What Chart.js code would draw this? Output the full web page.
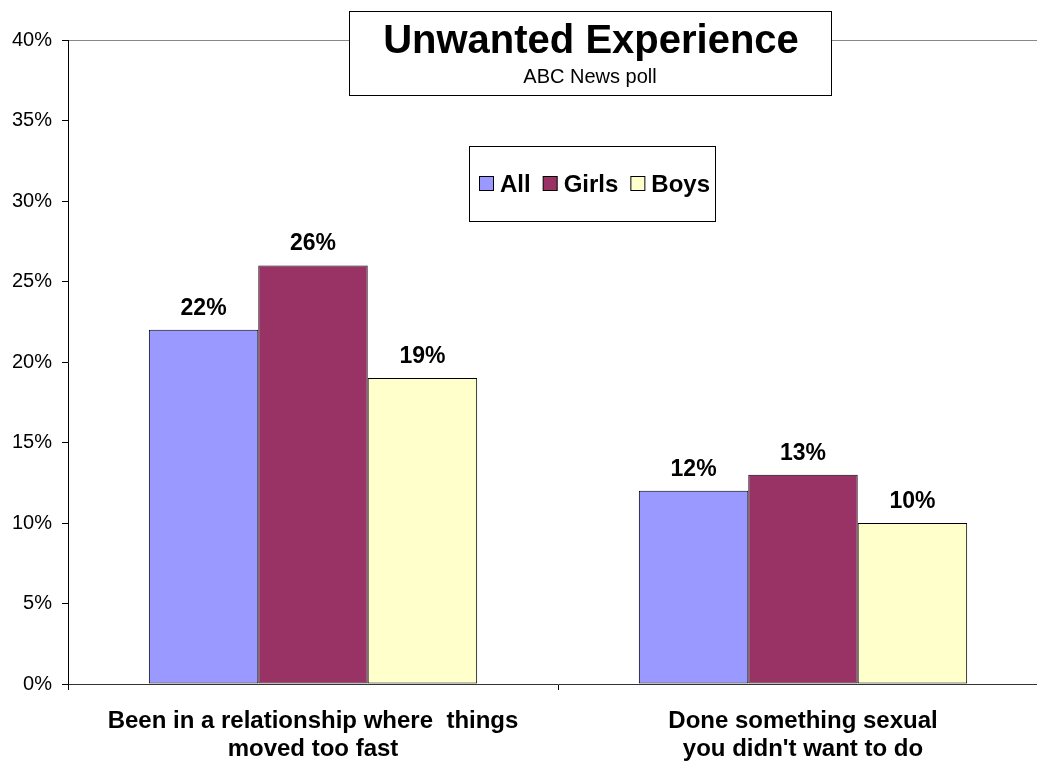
<!DOCTYPE html>
<html>
<head>
<meta charset="utf-8">
<script src="https://cdn.jsdelivr.net/npm/chart.js@4.4.0/dist/chart.umd.min.js"></script>
<style>
    html, body { margin: 0; padding: 0; background: #fff; }
    #clip { width: 1037px; height: 761px; overflow: hidden; }
    #wrap { width: 1048px; height: 761px; position: relative; }
</style>
</head>
<body>
<div id="clip"><div id="wrap"><canvas id="chart"></canvas></div></div>
<script>
// Data
const categories = [
    ['Been in a relationship where  things', 'moved too fast'],
    ['Done something sexual', "you didn't want to do"]
];
const seriesNames = ['All', 'Girls', 'Boys'];
const allValues = [22, 12];
const girlsValues = [26, 13];
const boysValues = [19, 10];
const yTicks = [0, 5, 10, 15, 20, 25, 30, 35, 40];
const chartTitle = 'Unwanted Experience';
const chartSubtitle = 'ABC News poll';

const colors = ['#9999FF', '#993366', '#FFFFCC'];
const FONT = 'Arial, "Liberation Sans", sans-serif';

// Title box + legend box + value labels
const decorPlugin = {
    id: 'decor',
    afterDatasetsDraw(chart) {
        const ctx = chart.ctx;
        ctx.save();
        ctx.fillStyle = '#000';
        ctx.textAlign = 'center';
        ctx.textBaseline = 'alphabetic';
        ctx.font = 'bold 23px ' + FONT;
        chart.data.datasets.forEach((ds, i) => {
            chart.getDatasetMeta(i).data.forEach((bar, j) => {
                ctx.fillText(ds.data[j] + '%', bar.x, bar.y - 15);
            });
        });
        ctx.restore();
    },
    afterDraw(chart) {
        const ctx = chart.ctx;
        ctx.save();
        // title box
        ctx.fillStyle = '#fff';
        ctx.fillRect(349, 11, 482, 84);
        ctx.strokeStyle = '#000';
        ctx.lineWidth = 1;
        ctx.strokeRect(349.5, 11.5, 482, 84);
        ctx.fillStyle = '#000';
        ctx.textAlign = 'center';
        ctx.textBaseline = 'alphabetic';
        ctx.font = 'bold 40px ' + FONT;
        ctx.fillText(chartTitle, 591, 53);
        ctx.font = '20px ' + FONT;
        ctx.fillText(chartSubtitle, 590, 83);

        // legend box
        ctx.fillStyle = '#fff';
        ctx.fillRect(469, 146, 246, 75);
        ctx.strokeRect(469.5, 146.5, 246, 75);
        ctx.font = 'bold 24px ' + FONT;
        ctx.textAlign = 'left';
        let x = 479;
        const y = 184;
        chart.data.datasets.forEach((ds) => {
            ctx.fillStyle = ds.backgroundColor;
            ctx.fillRect(x + 0.5, y - 7.5, 14, 14);
            ctx.strokeStyle = '#000';
            ctx.strokeRect(x + 0.5, y - 7.5, 14, 14);
            ctx.fillStyle = '#000';
            ctx.fillText(ds.label, x + 21, y + 8);
            x += 21 + ctx.measureText(ds.label).width + 12;
        });
        ctx.restore();
    }
};

const datasets = [allValues, girlsValues, boysValues].map((vals, i) => ({
    label: seriesNames[i],
    data: vals,
    backgroundColor: colors[i],
    borderColor: '#000',
    borderWidth: 1,
    borderSkipped: false,
    categoryPercentage: 0.67,
    barPercentage: 1.0
}));

new Chart(document.getElementById('chart'), {
    type: 'bar',
    data: { labels: categories, datasets: datasets },
    plugins: [decorPlugin],
    options: {
        responsive: true,
        maintainAspectRatio: false,
        animation: false,
        layout: { padding: { top: 40, right: 0, left: 0, bottom: 0 } },
        plugins: {
            legend: { display: false },
            title: { display: false },
            tooltip: { enabled: false }
        },
        scales: {
            x: {
                offset: true,
                grid: {
                    offset: true,
                    drawOnChartArea: false,
                    drawTicks: true,
                    tickLength: 6,
                    color: '#000'
                },
                border: { color: '#333', width: 1 },
                ticks: {
                    color: '#000',
                    font: { family: FONT, size: 24, weight: 'bold', lineHeight: 1.17 },
                    padding: 17,
                    maxRotation: 0,
                    autoSkip: false
                },
                afterFit(scale) { scale.height = 77; }
            },
            y: {
                min: 0,
                max: 40,
                afterBuildTicks(scale) { scale.ticks = yTicks.map(v => ({ value: v })); },
                grid: {
                    color: (c) => c.tick && c.tick.value === 40 ? '#888' : 'rgba(0,0,0,0)',
                    tickColor: '#000',
                    tickLength: 6,
                    drawTicks: true
                },
                border: { color: '#000', width: 1 },
                ticks: {
                    color: '#000',
                    font: { family: FONT, size: 20 },
                    padding: 10,
                    callback: (v) => v + '%'
                },
                afterFit(scale) { scale.width = 68; }
            }
        }
    }
});
</script>
</body>
</html>
